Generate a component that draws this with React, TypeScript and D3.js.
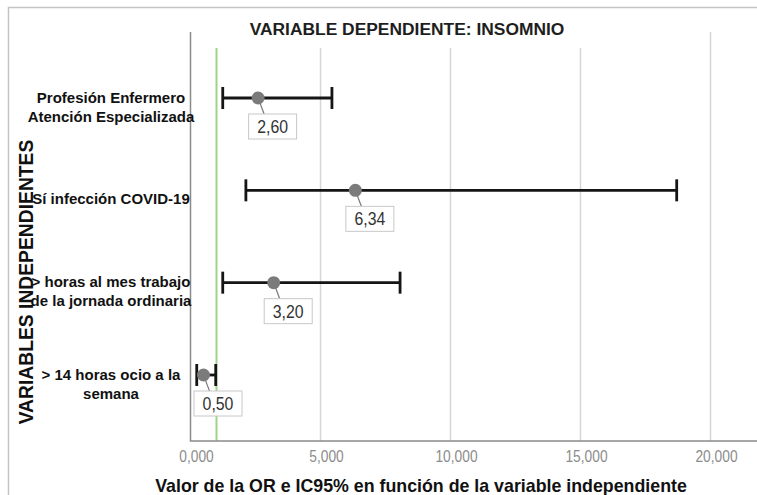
import React, { useEffect, useRef } from "react";
import * as d3 from "d3";

// chart data
const categories = [
  "Profesión Enfermero\nAtención Especializada",
  "Sí infección COVID-19",
  "> horas al mes trabajo\nde la jornada ordinaria",
  "> 14 horas ocio a la\nsemana",
];
const orValues = [2.6, 6.34, 3.2, 0.5];
const ciLower = [1.24, 2.13, 1.24, 0.24];
const ciUpper = [5.44, 18.7, 8.06, 0.97];
const orLabels = ["2,60", "6,34", "3,20", "0,50"];
const xTicks = [0, 5, 10, 15, 20];
const xTickLabels = ["0,000", "5,000", "10,000", "15,000", "20,000"];
const referenceOR = 1;

const title = "VARIABLE DEPENDIENTE: INSOMNIO";
const xTitle = "Valor de la OR e IC95% en función de la variable independiente";
const yTitle = "VARIABLES INDEPENDIENTES";

const FONT = "'Liberation Sans', Arial, sans-serif";

const ForestChart = () => {
  const ref = useRef<SVGSVGElement>(null);

  useEffect(() => {
    const width = 757;
    const height = 495;
    const plotTop = 32;
    const plotBottom = 441;

    const svg = d3.select(ref.current);
    svg.selectAll("*").remove();
    svg.attr("width", width).attr("height", height);

    const x = d3.scaleLinear().domain([0, 20]).range([190.5, 710.5]);
    const y = d3.scalePoint().domain(categories).range([98, 375]);

    // outer frame
    svg
      .append("path")
      .attr("d", `M8.5,${height} V7.5 H${width}`)
      .attr("fill", "none")
      .attr("stroke", "#c4c4c4")
      .attr("stroke-width", 1.5);

    // grid lines
    svg
      .append("g")
      .selectAll("line")
      .data(xTicks.slice(1))
      .enter()
      .append("line")
      .attr("x1", (d) => x(d))
      .attr("x2", (d) => x(d))
      .attr("y1", plotTop)
      .attr("y2", plotBottom)
      .attr("stroke", "#d6d6d6")
      .attr("stroke-width", 1.5);

    // reference line at OR = 1
    svg
      .append("line")
      .attr("x1", x(referenceOR))
      .attr("x2", x(referenceOR))
      .attr("y1", plotTop)
      .attr("y2", plotBottom)
      .attr("stroke", "#9ad68a")
      .attr("stroke-width", 2);

    // title with white background
    svg
      .append("rect")
      .attr("x", 200)
      .attr("y", 12)
      .attr("width", 395)
      .attr("height", 36)
      .attr("fill", "#fff");
    svg
      .append("text")
      .attr("x", 407)
      .attr("y", 35)
      .attr("text-anchor", "middle")
      .attr("font-family", FONT)
      .attr("font-weight", "bold")
      .attr("font-size", 17.4)
      .attr("fill", "#1e1e1e")
      .text(title);

    // axes lines
    svg
      .append("path")
      .attr("d", `M${x(0)},${plotTop} V${plotBottom} H${width}`)
      .attr("fill", "none")
      .attr("stroke", "#8a8a8a")
      .attr("stroke-width", 1.5);

    // x tick labels
    svg
      .append("g")
      .selectAll("text")
      .data(xTicks)
      .enter()
      .append("text")
      .attr("transform", (d) => `translate(${x(d) + 6},462) scale(0.86,1)`)
      .attr("text-anchor", "middle")
      .attr("font-family", FONT)
      .attr("font-size", 16)
      .attr("fill", "#8c8c8c")
      .text((d, i) => xTickLabels[i]);

    // x title
    svg
      .append("text")
      .attr("x", 421)
      .attr("y", 492)
      .attr("text-anchor", "middle")
      .attr("font-family", FONT)
      .attr("font-weight", "bold")
      .attr("font-size", 17.8)
      .attr("fill", "#111")
      .text(xTitle);

    // y title
    svg
      .append("text")
      .attr("transform", "translate(33,282) rotate(-90)")
      .attr("text-anchor", "middle")
      .attr("font-family", FONT)
      .attr("font-weight", "bold")
      .attr("font-size", 19.3)
      .attr("fill", "#111")
      .text(yTitle);

    // category labels
    const catG = svg.append("g");
    categories.forEach((c) => {
      const lines = c.split("\n");
      const cy = (y(c) as number) + 9;
      const t = catG
        .append("text")
        .attr("text-anchor", "middle")
        .attr("font-family", FONT)
        .attr("font-weight", "bold")
        .attr("font-size", 15)
        .attr("fill", "#111");
      lines.forEach((l, i) => {
        t.append("tspan")
          .attr("x", 111)
          .attr("y", cy + 5 + (i - (lines.length - 1) / 2) * 19)
          .text(l);
      });
    });

    // error bars
    const rows = categories.map((c, i) => ({
      c,
      or: orValues[i],
      lo: ciLower[i],
      hi: ciUpper[i],
      label: orLabels[i],
    }));
    const bars = svg.append("g").attr("stroke", "#151515").attr("stroke-width", 2.8);
    rows.forEach((r) => {
      const cy = y(r.c) as number;
      bars.append("line").attr("x1", x(r.lo)).attr("x2", x(r.hi)).attr("y1", cy).attr("y2", cy);
      [r.lo, r.hi].forEach((v) => {
        bars
          .append("line")
          .attr("x1", x(v))
          .attr("x2", x(v))
          .attr("y1", cy - 11)
          .attr("y2", cy + 11);
      });
    });

    // points with labels
    rows.forEach((r) => {
      const cx = x(r.or);
      const cy = y(r.c) as number;
      svg
        .append("line")
        .attr("x1", cx)
        .attr("y1", cy)
        .attr("x2", cx + 6)
        .attr("y2", cy + 16)
        .attr("stroke", "#7a7a7a")
        .attr("stroke-width", 1.2);
      svg
        .append("circle")
        .attr("cx", cx)
        .attr("cy", cy)
        .attr("r", 6.5)
        .attr("fill", "#7b7b7b");
      svg
        .append("rect")
        .attr("x", cx - 9.5)
        .attr("y", cy + 16)
        .attr("width", 48)
        .attr("height", 25)
        .attr("fill", "#fff")
        .attr("stroke", "#c8c8c8")
        .attr("stroke-width", 1);
      svg
        .append("text")
        .attr("transform", `translate(${cx + 14.5},${cy + 35}) scale(0.88,1)`)
        .attr("text-anchor", "middle")
        .attr("font-family", FONT)
        .attr("font-size", 18)
        .attr("fill", "#333")
        .text(r.label);
    });
  }, []);

  return <svg ref={ref} style={{ position: "absolute", left: 0, top: 0 }}></svg>;
};

export default function App() {
  return <ForestChart />;
}
